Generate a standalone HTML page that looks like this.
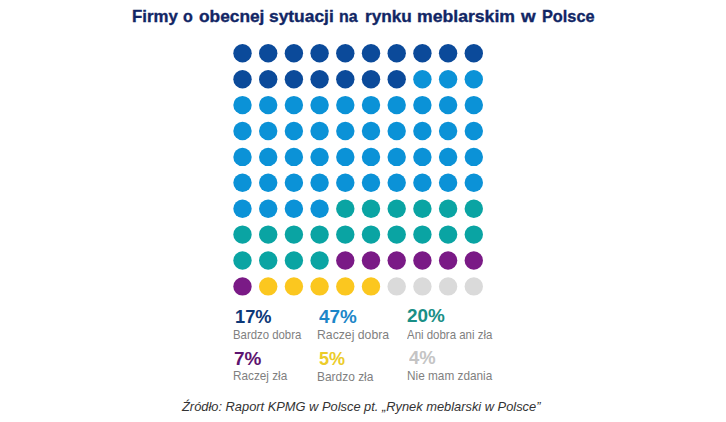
<!DOCTYPE html>
<html><head><meta charset="utf-8">
<style>
html,body{margin:0;padding:0;background:#fff;}
body{width:726px;height:422px;position:relative;overflow:hidden;font-family:"Liberation Sans",Arial,sans-serif;}
.dots{position:absolute;left:0;top:0;}
.t{position:absolute;white-space:nowrap;line-height:1;transform-origin:0 0;}
</style></head><body>
<svg class="dots" width="726" height="422" viewBox="0 0 726 422"><circle cx="242.50" cy="53.30" r="9.20" fill="#0b4a9a"/><circle cx="268.20" cy="53.30" r="9.20" fill="#0b4a9a"/><circle cx="293.90" cy="53.30" r="9.20" fill="#0b4a9a"/><circle cx="319.60" cy="53.30" r="9.20" fill="#0b4a9a"/><circle cx="345.30" cy="53.30" r="9.20" fill="#0b4a9a"/><circle cx="371.00" cy="53.30" r="9.20" fill="#0b4a9a"/><circle cx="396.70" cy="53.30" r="9.20" fill="#0b4a9a"/><circle cx="422.40" cy="53.30" r="9.20" fill="#0b4a9a"/><circle cx="448.10" cy="53.30" r="9.20" fill="#0b4a9a"/><circle cx="473.80" cy="53.30" r="9.20" fill="#0b4a9a"/><circle cx="242.50" cy="79.20" r="9.20" fill="#0b4a9a"/><circle cx="268.20" cy="79.20" r="9.20" fill="#0b4a9a"/><circle cx="293.90" cy="79.20" r="9.20" fill="#0b4a9a"/><circle cx="319.60" cy="79.20" r="9.20" fill="#0b4a9a"/><circle cx="345.30" cy="79.20" r="9.20" fill="#0b4a9a"/><circle cx="371.00" cy="79.20" r="9.20" fill="#0b4a9a"/><circle cx="396.70" cy="79.20" r="9.20" fill="#0b4a9a"/><circle cx="422.40" cy="79.20" r="9.20" fill="#0b92d7"/><circle cx="448.10" cy="79.20" r="9.20" fill="#0b92d7"/><circle cx="473.80" cy="79.20" r="9.20" fill="#0b92d7"/><circle cx="242.50" cy="105.10" r="9.20" fill="#0b92d7"/><circle cx="268.20" cy="105.10" r="9.20" fill="#0b92d7"/><circle cx="293.90" cy="105.10" r="9.20" fill="#0b92d7"/><circle cx="319.60" cy="105.10" r="9.20" fill="#0b92d7"/><circle cx="345.30" cy="105.10" r="9.20" fill="#0b92d7"/><circle cx="371.00" cy="105.10" r="9.20" fill="#0b92d7"/><circle cx="396.70" cy="105.10" r="9.20" fill="#0b92d7"/><circle cx="422.40" cy="105.10" r="9.20" fill="#0b92d7"/><circle cx="448.10" cy="105.10" r="9.20" fill="#0b92d7"/><circle cx="473.80" cy="105.10" r="9.20" fill="#0b92d7"/><circle cx="242.50" cy="131.00" r="9.20" fill="#0b92d7"/><circle cx="268.20" cy="131.00" r="9.20" fill="#0b92d7"/><circle cx="293.90" cy="131.00" r="9.20" fill="#0b92d7"/><circle cx="319.60" cy="131.00" r="9.20" fill="#0b92d7"/><circle cx="345.30" cy="131.00" r="9.20" fill="#0b92d7"/><circle cx="371.00" cy="131.00" r="9.20" fill="#0b92d7"/><circle cx="396.70" cy="131.00" r="9.20" fill="#0b92d7"/><circle cx="422.40" cy="131.00" r="9.20" fill="#0b92d7"/><circle cx="448.10" cy="131.00" r="9.20" fill="#0b92d7"/><circle cx="473.80" cy="131.00" r="9.20" fill="#0b92d7"/><circle cx="242.50" cy="156.90" r="9.20" fill="#0b92d7"/><circle cx="268.20" cy="156.90" r="9.20" fill="#0b92d7"/><circle cx="293.90" cy="156.90" r="9.20" fill="#0b92d7"/><circle cx="319.60" cy="156.90" r="9.20" fill="#0b92d7"/><circle cx="345.30" cy="156.90" r="9.20" fill="#0b92d7"/><circle cx="371.00" cy="156.90" r="9.20" fill="#0b92d7"/><circle cx="396.70" cy="156.90" r="9.20" fill="#0b92d7"/><circle cx="422.40" cy="156.90" r="9.20" fill="#0b92d7"/><circle cx="448.10" cy="156.90" r="9.20" fill="#0b92d7"/><circle cx="473.80" cy="156.90" r="9.20" fill="#0b92d7"/><circle cx="242.50" cy="182.80" r="9.20" fill="#0b92d7"/><circle cx="268.20" cy="182.80" r="9.20" fill="#0b92d7"/><circle cx="293.90" cy="182.80" r="9.20" fill="#0b92d7"/><circle cx="319.60" cy="182.80" r="9.20" fill="#0b92d7"/><circle cx="345.30" cy="182.80" r="9.20" fill="#0b92d7"/><circle cx="371.00" cy="182.80" r="9.20" fill="#0b92d7"/><circle cx="396.70" cy="182.80" r="9.20" fill="#0b92d7"/><circle cx="422.40" cy="182.80" r="9.20" fill="#0b92d7"/><circle cx="448.10" cy="182.80" r="9.20" fill="#0b92d7"/><circle cx="473.80" cy="182.80" r="9.20" fill="#0b92d7"/><circle cx="242.50" cy="208.70" r="9.20" fill="#0b92d7"/><circle cx="268.20" cy="208.70" r="9.20" fill="#0b92d7"/><circle cx="293.90" cy="208.70" r="9.20" fill="#0b92d7"/><circle cx="319.60" cy="208.70" r="9.20" fill="#0b92d7"/><circle cx="345.30" cy="208.70" r="9.20" fill="#0aa4a3"/><circle cx="371.00" cy="208.70" r="9.20" fill="#0aa4a3"/><circle cx="396.70" cy="208.70" r="9.20" fill="#0aa4a3"/><circle cx="422.40" cy="208.70" r="9.20" fill="#0aa4a3"/><circle cx="448.10" cy="208.70" r="9.20" fill="#0aa4a3"/><circle cx="473.80" cy="208.70" r="9.20" fill="#0aa4a3"/><circle cx="242.50" cy="234.60" r="9.20" fill="#0aa4a3"/><circle cx="268.20" cy="234.60" r="9.20" fill="#0aa4a3"/><circle cx="293.90" cy="234.60" r="9.20" fill="#0aa4a3"/><circle cx="319.60" cy="234.60" r="9.20" fill="#0aa4a3"/><circle cx="345.30" cy="234.60" r="9.20" fill="#0aa4a3"/><circle cx="371.00" cy="234.60" r="9.20" fill="#0aa4a3"/><circle cx="396.70" cy="234.60" r="9.20" fill="#0aa4a3"/><circle cx="422.40" cy="234.60" r="9.20" fill="#0aa4a3"/><circle cx="448.10" cy="234.60" r="9.20" fill="#0aa4a3"/><circle cx="473.80" cy="234.60" r="9.20" fill="#0aa4a3"/><circle cx="242.50" cy="260.50" r="9.20" fill="#0aa4a3"/><circle cx="268.20" cy="260.50" r="9.20" fill="#0aa4a3"/><circle cx="293.90" cy="260.50" r="9.20" fill="#0aa4a3"/><circle cx="319.60" cy="260.50" r="9.20" fill="#0aa4a3"/><circle cx="345.30" cy="260.50" r="9.20" fill="#7a1a86"/><circle cx="371.00" cy="260.50" r="9.20" fill="#7a1a86"/><circle cx="396.70" cy="260.50" r="9.20" fill="#7a1a86"/><circle cx="422.40" cy="260.50" r="9.20" fill="#7a1a86"/><circle cx="448.10" cy="260.50" r="9.20" fill="#7a1a86"/><circle cx="473.80" cy="260.50" r="9.20" fill="#7a1a86"/><circle cx="242.50" cy="286.40" r="9.20" fill="#7a1a86"/><circle cx="268.20" cy="286.40" r="9.20" fill="#fbc71f"/><circle cx="293.90" cy="286.40" r="9.20" fill="#fbc71f"/><circle cx="319.60" cy="286.40" r="9.20" fill="#fbc71f"/><circle cx="345.30" cy="286.40" r="9.20" fill="#fbc71f"/><circle cx="371.00" cy="286.40" r="9.20" fill="#fbc71f"/><circle cx="396.70" cy="286.40" r="9.20" fill="#dadada"/><circle cx="422.40" cy="286.40" r="9.20" fill="#dadada"/><circle cx="448.10" cy="286.40" r="9.20" fill="#dadada"/><circle cx="473.80" cy="286.40" r="9.20" fill="#dadada"/></svg>
<div class="t" style="left:132.02px;top:7.65px;font-size:17.0px;color:#112665;font-weight:bold;transform:scaleX(0.9877);-webkit-text-stroke:0.35px #112665;">Firmy</div>
<div class="t" style="left:183.44px;top:7.65px;font-size:17.0px;color:#112665;font-weight:bold;transform:scaleX(0.944);-webkit-text-stroke:0.35px #112665;">o</div>
<div class="t" style="left:199.4px;top:7.65px;font-size:17.0px;color:#112665;font-weight:bold;transform:scaleX(1.0186);-webkit-text-stroke:0.35px #112665;">obecnej</div>
<div class="t" style="left:269.23px;top:7.65px;font-size:17.0px;color:#112665;font-weight:bold;transform:scaleX(1.0221);-webkit-text-stroke:0.35px #112665;">sytuacji</div>
<div class="t" style="left:338.75px;top:7.65px;font-size:17.0px;color:#112665;font-weight:bold;transform:scaleX(0.9385);-webkit-text-stroke:0.35px #112665;">na</div>
<div class="t" style="left:364.6px;top:7.65px;font-size:17.0px;color:#112665;font-weight:bold;transform:scaleX(1.0114);-webkit-text-stroke:0.35px #112665;">rynku</div>
<div class="t" style="left:416.97px;top:7.65px;font-size:17.0px;color:#112665;font-weight:bold;transform:scaleX(1.0368);-webkit-text-stroke:0.35px #112665;">meblarskim</div>
<div class="t" style="left:520.98px;top:7.65px;font-size:17.0px;color:#112665;font-weight:bold;transform:scaleX(1.1062);-webkit-text-stroke:0.35px #112665;">w</div>
<div class="t" style="left:541.64px;top:7.65px;font-size:17.0px;color:#112665;font-weight:bold;transform:scaleX(0.958);-webkit-text-stroke:0.35px #112665;">Polsce</div>
<div class="t" style="left:234.7px;top:307.9px;font-size:18.2px;color:#0c3878;font-weight:bold;transform:scaleX(1.0028);">17%</div>
<div class="t" style="left:319.05px;top:307.9px;font-size:18.2px;color:#1c86c8;font-weight:bold;transform:scaleX(1.0373);">47%</div>
<div class="t" style="left:406.69px;top:307.48px;font-size:18.2px;color:#1a8f86;font-weight:bold;transform:scaleX(1.0391);">20%</div>
<div class="t" style="left:233.87px;top:349.9px;font-size:18.2px;color:#5e1470;font-weight:bold;transform:scaleX(1.0422);">7%</div>
<div class="t" style="left:319.18px;top:349.9px;font-size:18.2px;color:#eccc2a;font-weight:bold;transform:scaleX(0.9921);">5%</div>
<div class="t" style="left:408.55px;top:349.2px;font-size:18.2px;color:#c4c4c4;font-weight:bold;transform:scaleX(1.0123);">4%</div>
<div class="t" style="left:233.12px;top:329.0px;font-size:12.4px;color:#7f7f7f;transform:scaleX(0.9178);">Bardzo dobra</div>
<div class="t" style="left:317.36px;top:329.0px;font-size:12.4px;color:#7f7f7f;transform:scaleX(0.9874);">Raczej dobra</div>
<div class="t" style="left:407.26px;top:328.83px;font-size:12.4px;color:#7f7f7f;transform:scaleX(0.9246);">Ani dobra ani zła</div>
<div class="t" style="left:232.59px;top:370.4px;font-size:12.4px;color:#7f7f7f;transform:scaleX(0.9483);">Raczej zła</div>
<div class="t" style="left:317.18px;top:370.6px;font-size:12.4px;color:#7f7f7f;transform:scaleX(0.9634);">Bardzo zła</div>
<div class="t" style="left:407.09px;top:370.37px;font-size:12.4px;color:#7f7f7f;transform:scaleX(0.9525);">Nie mam zdania</div>
<div class="t" style="left:182.27px;top:400.9px;font-size:12.2px;color:#333333;font-style:italic;transform:scaleX(1.0543);">Źródło: Raport KPMG w Polsce pt. „Rynek meblarski w Polsce”</div>
</body></html>
